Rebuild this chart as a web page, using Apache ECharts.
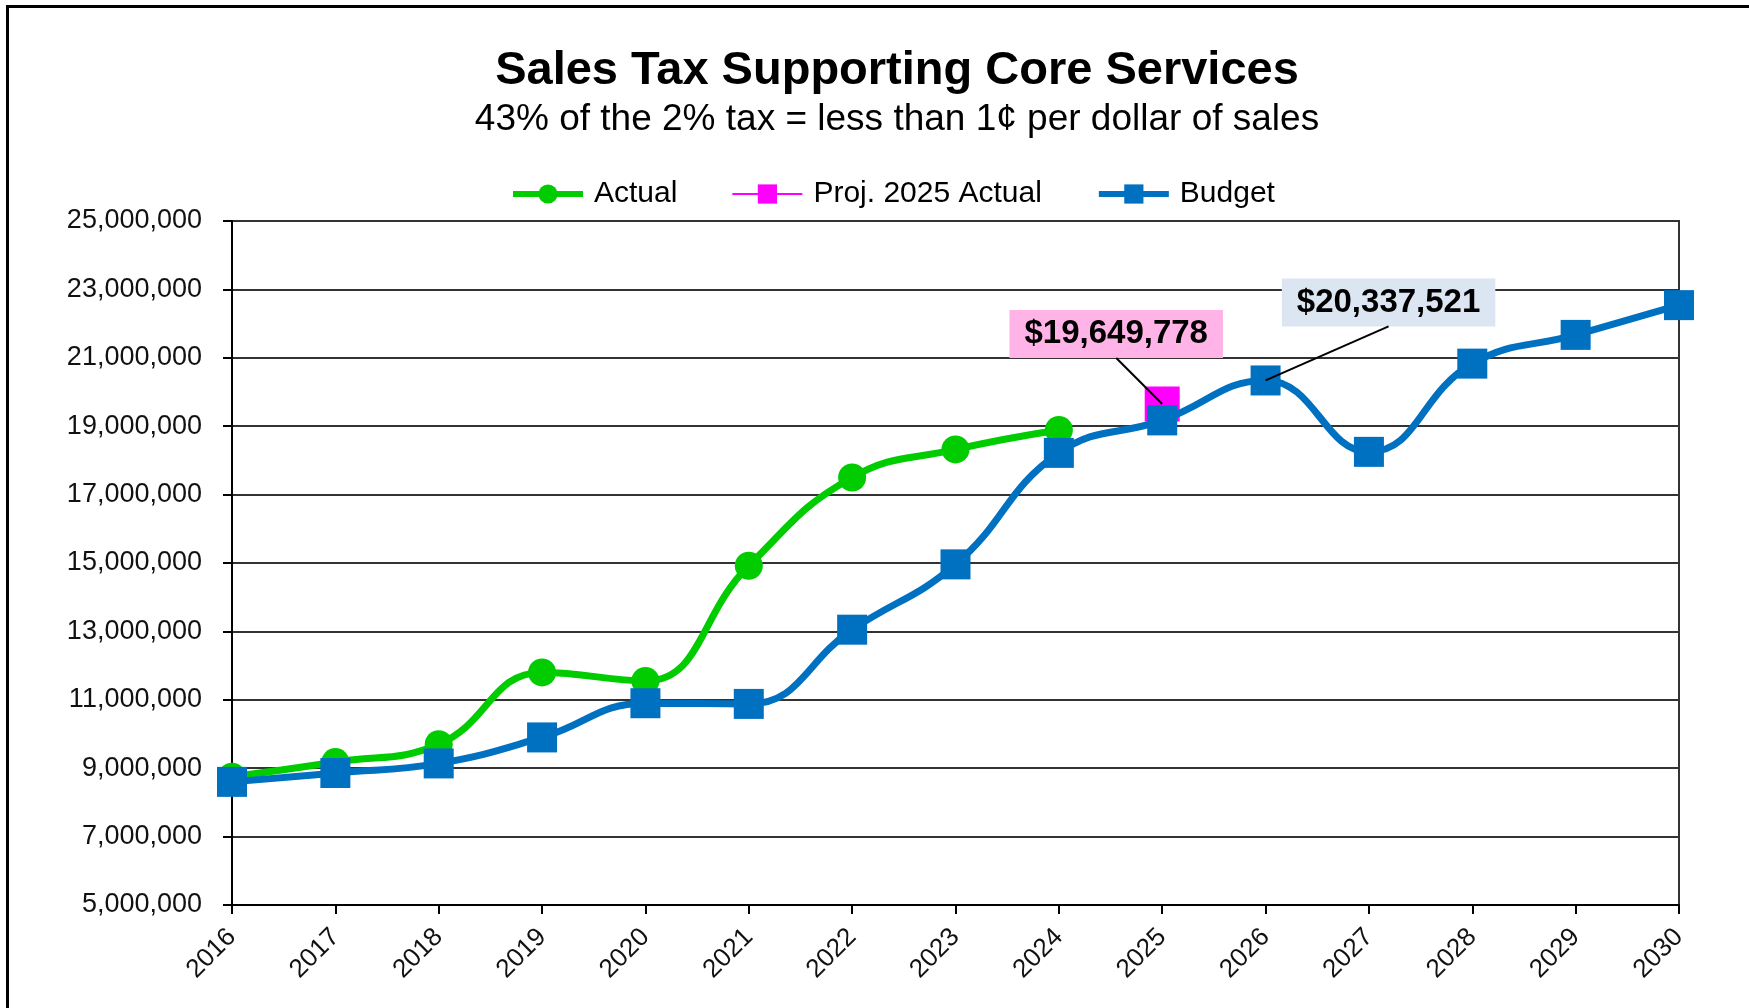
<!DOCTYPE html>
<html>
<head>
<meta charset="utf-8">
<title>Sales Tax Supporting Core Services</title>
<script src="https://cdn.jsdelivr.net/npm/echarts@6/dist/echarts.min.js"></script>
<style>
  html, body { margin: 0; padding: 0; background: #ffffff; }
  #chart { width: 1749px; height: 1008px; }
</style>
</head>
<body>
<div id="chart"></div>
<script>
// Fiscal years on the category axis
const years = ['2016', '2017', '2018', '2019', '2020', '2021', '2022', '2023',
               '2024', '2025', '2026', '2027', '2028', '2029', '2030'];

// Sales tax actually collected (through 2024)
const actualSales = [8750000, 9180000, 9700000, 11800000, 11550000, 14920000,
                     17500000, 18320000, 18890000, null, null, null, null, null, null];

// Projected 2025 actual collection
const projected2025 = [null, null, null, null, null, null, null, null, null,
                       19649778, null, null, null, null, null];

// Budgeted sales tax by year
const budgetSales = [8600000, 8860000, 9140000, 9900000, 10900000, 10880000,
                     13050000, 14960000, 18220000, 19170000, 20337521, 18250000,
                     20830000, 21670000, 22540000];

// Budget year that gets a value callout
const calloutYear = '2026';
const projYear = '2025';

const FONT = '"Liberation Sans", Arial, Helvetica, sans-serif';
const fmtInt = v => Math.round(v).toLocaleString('en-US');
const fmtDollar = v => '$' + fmtInt(v);

// Callout boxes: offset of the box centre from its point, and box half height
const PROJ_CALLOUT_OFFSET = [-46, -70];
const BUDGET_CALLOUT_OFFSET = [123, -78];
const CALLOUT_FONT = 33;
const CALLOUT_PAD = [8, 15, 7, 15];
const CALLOUT_HALF_H = (CALLOUT_FONT + CALLOUT_PAD[0] + CALLOUT_PAD[2]) / 2;

function calloutLabel(bg) {
  return {
    show: true,
    position: 'inside',
    formatter: p => fmtDollar(p.value),
    fontFamily: FONT,
    fontSize: CALLOUT_FONT,
    fontWeight: 'bold',
    color: '#000',
    backgroundColor: bg,
    padding: CALLOUT_PAD
  };
}

const chart = echarts.init(document.getElementById('chart'), null, { renderer: 'canvas' });

const budgetData = budgetSales.map((v, i) =>
  years[i] === calloutYear ? { value: v, label: calloutLabel('#dce6f2') } : v
);

const frame = {
  type: 'rect',
  silent: true,
  shape: { x: 7.5, y: 6.5, width: 1800, height: 1100 },
  style: { fill: 'none', stroke: '#000', lineWidth: 3 },
  z: 100
};

const option = {
  backgroundColor: '#ffffff',
  animation: false,
  textStyle: { fontFamily: FONT },
  title: [
    {
      text: 'Sales Tax Supporting Core Services',
      left: 897,
      top: 48,
      padding: 0,
      textAlign: 'center',
      textStyle: { fontFamily: FONT, fontSize: 47, fontWeight: 'bold', color: '#000' }
    },
    {
      text: '43% of the 2% tax = less than 1\u00A2 per dollar of sales',
      left: 897,
      top: 101,
      padding: 0,
      textAlign: 'center',
      textStyle: { fontFamily: FONT, fontSize: 37, fontWeight: 'normal', color: '#000' }
    }
  ],
  legend: {
    top: 179,
    left: 510,
    padding: 0,
    itemWidth: 70,
    itemHeight: 24,
    itemGap: 54,
    textStyle: { fontFamily: FONT, fontSize: 30, color: '#000', padding: [0, 0, 0, 6] },
    data: [
      { name: 'Actual', lineStyle: { width: 6 } },
      { name: 'Proj. 2025 Actual', lineStyle: { width: 2 } },
      { name: 'Budget', lineStyle: { width: 6 } }
    ]
  },
  grid: {
    left: 232,
    right: 70,
    top: 221,
    bottom: 103,
    show: true,
    borderColor: '#333',
    borderWidth: 2,
    backgroundColor: 'transparent'
  },
  xAxis: {
    type: 'category',
    data: years,
    boundaryGap: false,
    axisLine: { lineStyle: { color: '#000', width: 2 } },
    axisTick: { show: true, length: 9, lineStyle: { color: '#000', width: 2 } },
    axisLabel: {
      rotate: 45,
      margin: 28,
      fontFamily: FONT,
      fontSize: 26,
      color: '#111',
      interval: 0
    },
    splitLine: { show: false }
  },
  yAxis: {
    type: 'value',
    min: 5000000,
    max: 25000000,
    interval: 2000000,
    axisLine: { show: true, lineStyle: { color: '#000', width: 2 } },
    axisTick: { show: true, length: 9, lineStyle: { color: '#000', width: 2 } },
    axisLabel: {
      margin: 30,
      fontFamily: FONT,
      fontSize: 27,
      color: '#111',
      formatter: v => fmtInt(v)
    },
    splitLine: { show: true, lineStyle: { color: '#333', width: 2 } }
  },
  series: [
    {
      name: 'Actual',
      type: 'line',
      data: actualSales,
      smooth: 0.45,
      symbol: 'circle',
      symbolSize: 28,
      itemStyle: { color: '#00cc00' },
      lineStyle: { color: '#00cc00', width: 7 },
      emphasis: { disabled: true },
      z: 2
    },
    {
      name: 'Proj. 2025 Actual',
      type: 'line',
      data: projected2025,
      symbol: 'rect',
      symbolSize: 35,
      itemStyle: { color: '#ff00ff' },
      lineStyle: { color: '#ff00ff', width: 2 },
      emphasis: { disabled: true },
      label: calloutLabel('#ffb3e6'),
      labelLayout: { dx: PROJ_CALLOUT_OFFSET[0], dy: PROJ_CALLOUT_OFFSET[1] },
      z: 3
    },
    {
      name: 'Budget',
      type: 'line',
      data: budgetData,
      smooth: 0.45,
      symbol: 'rect',
      symbolSize: 30,
      itemStyle: { color: '#0070c0' },
      lineStyle: { color: '#0070c0', width: 7 },
      emphasis: { disabled: true },
      labelLayout: { dx: BUDGET_CALLOUT_OFFSET[0], dy: BUDGET_CALLOUT_OFFSET[1] },
      z: 4
    }
  ],
  graphic: [frame]
};

chart.setOption(option);

// Leader lines from each callout box (bottom centre) to its data point
const callouts = [
  { year: projYear, value: projected2025[years.indexOf(projYear)], offset: PROJ_CALLOUT_OFFSET },
  { year: calloutYear, value: budgetSales[years.indexOf(calloutYear)], offset: BUDGET_CALLOUT_OFFSET }
];
const leaders = callouts.map(c => {
  const p = chart.convertToPixel({ gridIndex: 0 }, [c.year, c.value]);
  return {
    type: 'line',
    silent: true,
    shape: {
      x1: p[0] + c.offset[0],
      y1: p[1] + c.offset[1] + CALLOUT_HALF_H,
      x2: p[0],
      y2: p[1]
    },
    style: { stroke: '#000', lineWidth: 2 },
    z: 50
  };
});
chart.setOption({ graphic: [frame].concat(leaders) }, { replaceMerge: ['graphic'] });
</script>
</body>
</html>
